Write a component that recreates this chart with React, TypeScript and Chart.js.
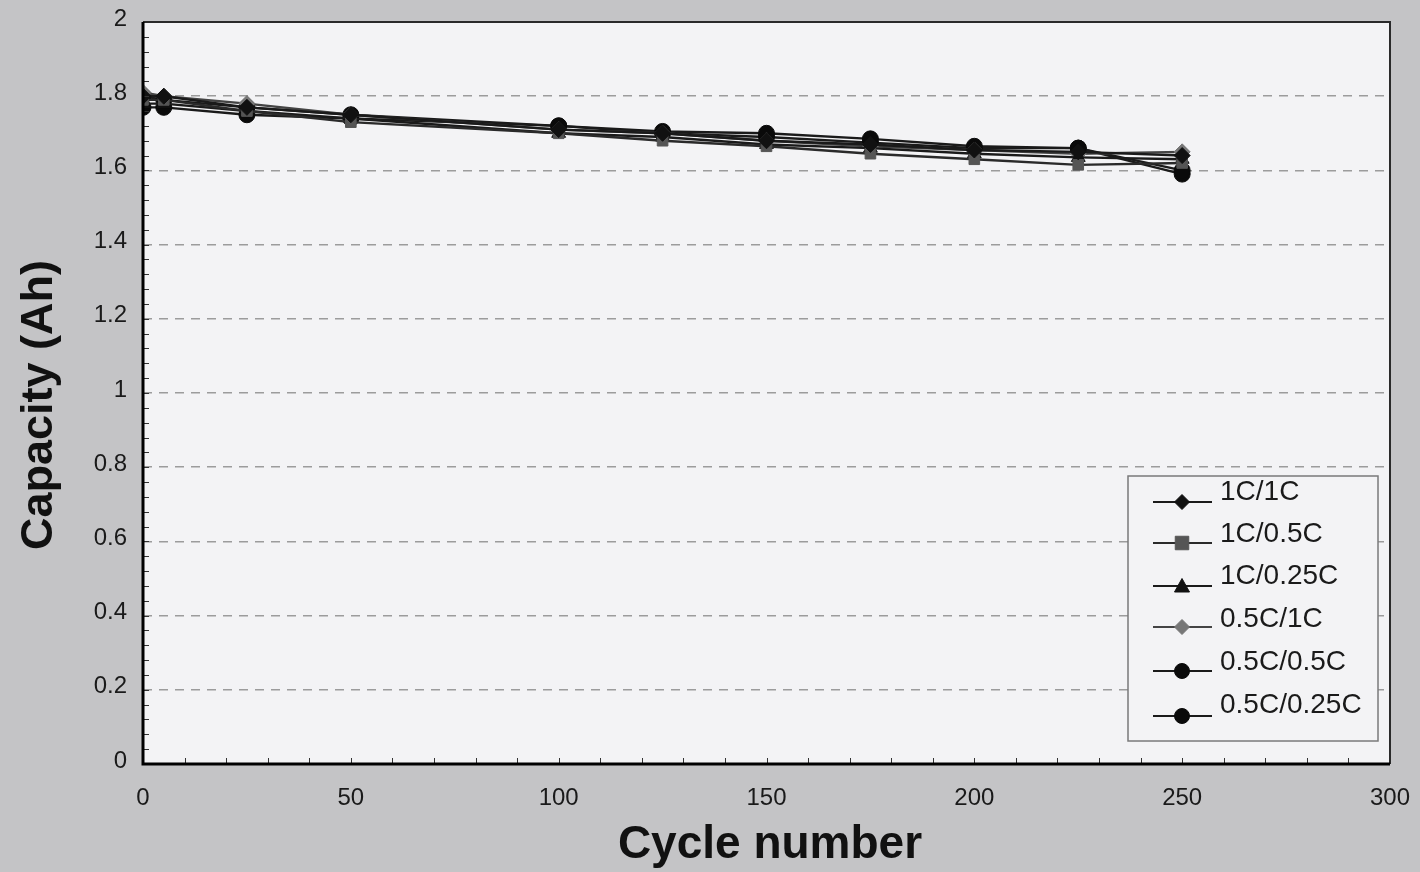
import React, { useEffect, useRef } from "react";
import { Chart, registerables } from "chart.js";

Chart.register(...registerables);

// Cycle numbers at which capacity was measured
const cycles = [0, 5, 25, 50, 100, 125, 150, 175, 200, 225, 250];

// Discharge capacity (Ah) for each charge/discharge rate combination
const cap1C1C = [1.8, 1.8, 1.77, 1.75, 1.71, 1.7, 1.68, 1.67, 1.655, 1.65, 1.64];
const cap1C05C = [1.79, 1.79, 1.76, 1.73, 1.7, 1.68, 1.665, 1.645, 1.63, 1.615, 1.62];
const cap1C025C = [1.78, 1.78, 1.76, 1.74, 1.7, 1.69, 1.67, 1.66, 1.645, 1.635, 1.63];
const cap05C1C = [1.81, 1.8, 1.78, 1.75, 1.71, 1.7, 1.68, 1.665, 1.655, 1.645, 1.65];
const cap05C05C = [1.8, 1.79, 1.77, 1.75, 1.72, 1.705, 1.7, 1.685, 1.665, 1.66, 1.6];
const cap05C025C = [1.77, 1.77, 1.75, 1.74, 1.72, 1.7, 1.69, 1.675, 1.66, 1.66, 1.59];

const seriesLabels = ["1C/1C", "1C/0.5C", "1C/0.25C", "0.5C/1C", "0.5C/0.5C", "0.5C/0.25C"];
const seriesValues = [cap1C1C, cap1C05C, cap1C025C, cap05C1C, cap05C05C, cap05C025C];

const xTitle = "Cycle number";
const yTitle = "Capacity (Ah)";

const FONT = "'Liberation Sans', Arial, sans-serif";
const PLOT_BG = "#f3f3f5";
const PAGE_BG = "#c4c4c6";

const markerStyles = [
  { pointStyle: "rectRot", color: "#111111", line: "#1a1a1a", radius: 8 },
  { pointStyle: "rect", color: "#555555", line: "#2a2a2a", radius: 7.5 },
  { pointStyle: "triangle", color: "#111111", line: "#1a1a1a", radius: 8 },
  { pointStyle: "rectRot", color: "#777777", line: "#444444", radius: 8 },
  { pointStyle: "circle", color: "#0a0a0a", line: "#1a1a1a", radius: 8 },
  { pointStyle: "circle", color: "#0a0a0a", line: "#1a1a1a", radius: 8 },
];

function drawMarker(ctx: CanvasRenderingContext2D, style: string, x: number, y: number, r: number) {
  ctx.beginPath();
  if (style === "circle") {
    ctx.arc(x, y, r, 0, Math.PI * 2);
  } else if (style === "rect") {
    ctx.rect(x - r * 0.9, y - r * 0.9, r * 1.8, r * 1.8);
  } else if (style === "rectRot") {
    ctx.moveTo(x, y - r);
    ctx.lineTo(x + r, y);
    ctx.lineTo(x, y + r);
    ctx.lineTo(x - r, y);
    ctx.closePath();
  } else if (style === "triangle") {
    ctx.moveTo(x, y - r);
    ctx.lineTo(x + r, y + r * 0.8);
    ctx.lineTo(x - r, y + r * 0.8);
    ctx.closePath();
  }
  ctx.fill();
  ctx.stroke();
}

// Fills the plot area, draws the frame, inward tick marks, axis titles and the boxed legend
const framePlugin = {
  id: "frame",
  beforeDraw(chart: any) {
    const { ctx, chartArea: a } = chart;
    ctx.save();
    ctx.fillStyle = PLOT_BG;
    ctx.fillRect(a.left, a.top, a.right - a.left, a.bottom - a.top);
    ctx.restore();
  },
  afterDatasetsDraw(chart: any) {
    const { ctx, chartArea: a, scales } = chart;
    const xs = scales.x;
    const ys = scales.y;
    ctx.save();
    // inward tick marks
    ctx.strokeStyle = "#333333";
    ctx.lineWidth = 1;
    for (let i = 0; i <= 50; i++) {
      const py = Math.round(ys.getPixelForValue(i * 0.04)) + 0.5;
      ctx.beginPath();
      ctx.moveTo(a.left, py);
      ctx.lineTo(a.left + 6, py);
      ctx.stroke();
    }
    for (let i = 0; i <= 30; i++) {
      const px = Math.round(xs.getPixelForValue(i * 10)) + 0.5;
      ctx.beginPath();
      ctx.moveTo(px, a.bottom);
      ctx.lineTo(px, a.bottom - 6);
      ctx.stroke();
    }
    // frame: top and right thin, left and bottom heavy
    ctx.strokeStyle = "#2a2a2a";
    ctx.lineWidth = 2;
    ctx.beginPath();
    ctx.moveTo(a.left, a.top);
    ctx.lineTo(a.right, a.top);
    ctx.lineTo(a.right, a.bottom);
    ctx.stroke();
    ctx.strokeStyle = "#000000";
    ctx.lineWidth = 3;
    ctx.beginPath();
    ctx.moveTo(a.left, a.top);
    ctx.lineTo(a.left, a.bottom);
    ctx.lineTo(a.right, a.bottom);
    ctx.stroke();

    // axis titles
    ctx.fillStyle = "#111111";
    ctx.textAlign = "center";
    ctx.textBaseline = "middle";
    ctx.font = `bold 46px ${FONT}`;
    ctx.fillText(xTitle, 770, 845);
    ctx.save();
    ctx.translate(40, 405);
    ctx.rotate(-Math.PI / 2);
    ctx.font = `bold 45px ${FONT}`;
    ctx.fillText(yTitle, 0, 0);
    ctx.restore();

    // legend box
    const bx = 1128, by = 476, bw = 250, bh = 265;
    ctx.fillStyle = PLOT_BG;
    ctx.fillRect(bx, by, bw, bh);
    ctx.strokeStyle = "#7a7a7a";
    ctx.lineWidth = 1.5;
    ctx.strokeRect(bx, by, bw, bh);
    const rowLines = [502, 543, 586, 627, 671, 716];
    const rowTexts = [492, 534, 576, 619, 662, 705];
    chart.data.datasets.forEach((ds: any, i: number) => {
      const ly = rowLines[i];
      ctx.strokeStyle = ds.borderColor;
      ctx.lineWidth = 2;
      ctx.beginPath();
      ctx.moveTo(1153, ly);
      ctx.lineTo(1212, ly);
      ctx.stroke();
      ctx.fillStyle = ds.pointBackgroundColor;
      ctx.strokeStyle = ds.pointBackgroundColor;
      ctx.lineWidth = 1;
      drawMarker(ctx, ds.pointStyle, 1182, ly, 7.5);
      ctx.fillStyle = "#1a1a1a";
      ctx.font = `28px ${FONT}`;
      ctx.textAlign = "left";
      ctx.textBaseline = "middle";
      ctx.fillText(ds.label, 1220, rowTexts[i]);
    });
    ctx.restore();
  },
};

export default function App() {
  const canvasRef = useRef<HTMLCanvasElement | null>(null);

  useEffect(() => {
    document.body.style.margin = "0";
    document.body.style.background = PAGE_BG;
    const canvas = canvasRef.current;
    if (!canvas) return;

    const datasets = seriesLabels.map((label, i) => {
      const m = markerStyles[i];
      return {
        label,
        data: cycles.map((c, j) => ({ x: c, y: seriesValues[i][j] })),
        borderColor: m.line,
        borderWidth: 2.4,
        pointStyle: m.pointStyle,
        pointRadius: m.radius,
        pointHoverRadius: m.radius,
        pointBackgroundColor: m.color,
        pointBorderColor: m.color,
        pointBorderWidth: 1,
        tension: 0,
        fill: false,
      };
    });

    const chart = new Chart(canvas, {
      type: "line",
      data: { datasets },
      options: {
        animation: false,
        responsive: false,
        maintainAspectRatio: false,
        layout: { padding: { left: 0, top: 22, right: 30, bottom: 0 } },
        plugins: {
          legend: { display: false },
          tooltip: { enabled: false },
        },
        scales: {
          x: {
            type: "linear",
            min: 0,
            max: 300,
            ticks: {
              stepSize: 50,
              color: "#1a1a1a",
              font: { family: FONT, size: 24 },
              padding: 20,
            },
            grid: { display: false, drawTicks: false },
            border: { display: false },
            afterFit: (s: any) => {
              s.height = 108;
              s.paddingLeft = 0;
              s.paddingRight = 0;
            },
          },
          y: {
            type: "linear",
            min: 0,
            max: 2,
            ticks: {
              stepSize: 0.2,
              color: "#1a1a1a",
              font: { family: FONT, size: 24 },
              padding: 16,
              labelOffset: -3,
              callback: (v: any) => String(Number(Number(v).toFixed(1))),
            },
            grid: {
              drawTicks: false,
              lineWidth: 1.5,
              color: (c: any) =>
                c.tick && (c.tick.value === 0 || c.tick.value === 2) ? "rgba(0,0,0,0)" : "#9c9c9c",
            },
            border: { display: false, dash: [9, 7] },
            afterFit: (s: any) => {
              s.width = 143;
              s.paddingTop = 0;
              s.paddingBottom = 0;
            },
          },
        },
      },
      plugins: [framePlugin],
    });

    return () => chart.destroy();
  }, []);

  return (
    <div style={{ width: 1420, height: 872, background: PAGE_BG }}>
      <canvas ref={canvasRef} width={1420} height={872} style={{ display: "block" }} />
    </div>
  );
}
